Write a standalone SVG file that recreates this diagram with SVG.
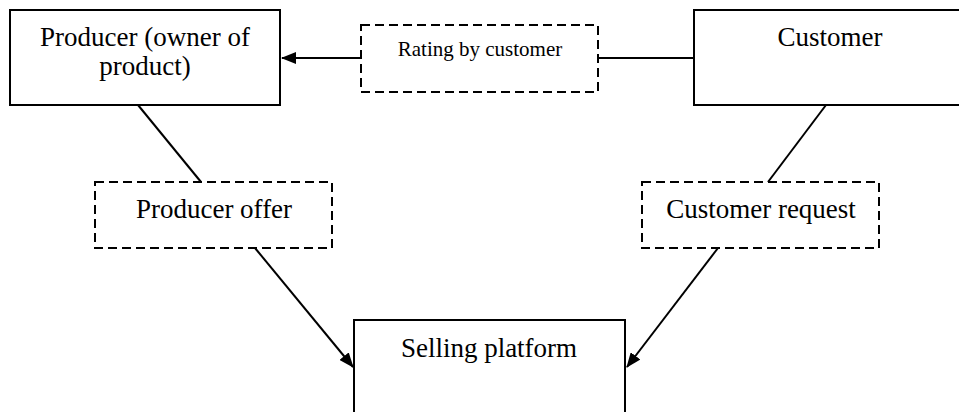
<svg xmlns="http://www.w3.org/2000/svg" width="959" height="412" viewBox="0 0 959 412">
<defs>
<style>
.box{fill:#fff;stroke:#000;stroke-width:2}
.dbox{fill:#fff;stroke:#000;stroke-width:2;stroke-dasharray:9 5}
.t{font-family:"Liberation Serif","Times New Roman",serif;font-size:27px;fill:#000;text-anchor:middle}
.ts{font-family:"Liberation Serif","Times New Roman",serif;font-size:21px;fill:#000;text-anchor:middle}
.c{stroke:#000;stroke-width:2;fill:none}
</style>
<marker id="ah" markerWidth="15" markerHeight="12" refX="14" refY="6" orient="auto" markerUnits="userSpaceOnUse">
<path d="M0,0 L15,6 L0,12 Z" fill="#000"/>
</marker>
</defs>
<rect width="959" height="412" fill="#fff"/>
<g id="connectors">
<line class="c" x1="361" y1="58" x2="282" y2="58" marker-end="url(#ah)"/>
<line class="c" x1="598" y1="58" x2="694" y2="58"/>
<line class="c" x1="138" y1="105" x2="201" y2="182"/>
<line class="c" x1="826" y1="105" x2="768" y2="182"/>
<line class="c" x1="255" y1="248" x2="353" y2="367" marker-end="url(#ah)"/>
<line class="c" x1="718" y1="248" x2="627" y2="367" marker-end="url(#ah)"/>
</g>
<g id="producer">
<rect class="box" x="10" y="10" width="270" height="95"/>
<text class="t" x="145" y="46">Producer (owner of</text>
<text class="t" x="145" y="75">product)</text>
</g>
<g id="rating">
<rect class="dbox" x="361" y="25" width="237" height="67"/>
<text class="ts" x="480" y="56">Rating by customer</text>
</g>
<g id="customer">
<rect class="box" x="694" y="10" width="272" height="95"/>
<text class="t" x="830" y="46">Customer</text>
</g>
<g id="producer-offer">
<rect class="dbox" x="95" y="182" width="237" height="66"/>
<text class="t" x="214" y="218">Producer offer</text>
</g>
<g id="customer-request">
<rect class="dbox" x="642" y="182" width="237" height="66"/>
<text class="t" x="761" y="218">Customer request</text>
</g>
<g id="selling-platform">
<rect class="box" x="354" y="320" width="271" height="100"/>
<text class="t" x="489" y="357">Selling platform</text>
</g>
</svg>
